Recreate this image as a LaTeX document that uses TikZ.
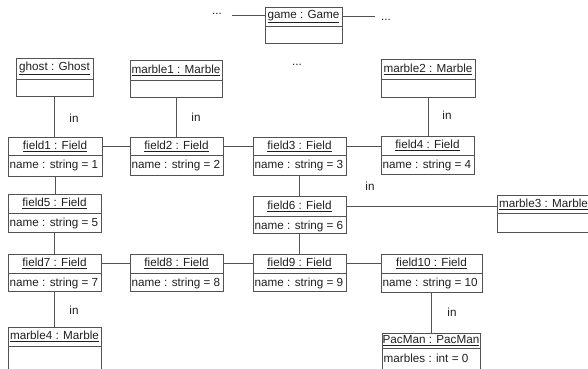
\documentclass[tikz,border=0pt]{standalone}
\usepackage{fontspec}
\setmainfont{Liberation Sans}
\begin{document}
\begin{tikzpicture}[x=1pt,y=-1pt,
  objbox/.style={draw=black!68, line width=0.9pt, inner sep=0pt, outer sep=0pt},
  boxline/.style={draw=black!68, line width=0.9pt},
  conn/.style={draw=black!68, line width=0.9pt},
  lbl/.style={inner sep=0pt, text=black!88, font=\fontsize{11.7}{14}\selectfont}]
\useasboundingbox (0,0) rectangle (588,368);
\clip (0,0) rectangle (588,368);
\newcommand\umlobj[8]{%
  \node[objbox, anchor=north west, minimum width={(#4-#2)*1pt}, minimum height={(#5-#3)*1pt}] (#1) at (#2,#3) {};
  \draw[boxline] (#2,#6) -- (#4,#6);
  \node[lbl] (#1t) at ({(#2+#4)/2},{(#3+#6)/2}) {\underline{#7}};
  \if\relax\detokenize{#8}\relax\else
  \node[lbl, anchor=west] (#1a) at ({#2+1.5},{#6+10}) {#8};
  \fi}
\umlobj{game}{265}{7}{342}{43}{26}{game : Game}{}
\umlobj{ghost}{16}{58}{93}{96}{79}{ghost : Ghost}{}
\umlobj{mA}{130}{60}{222}{97}{80}{marble1 : Marble}{}
\umlobj{mB}{381}{59}{475}{97}{79}{marble2 : Marble}{}
\umlobj{fA}{8}{137}{102}{176}{155}{field1 : Field}{name : string = 1}
\umlobj{fB}{130}{137}{223}{175}{155}{field2 : Field}{name : string = 2}
\umlobj{fC}{253}{137}{346}{175}{155}{field3 : Field}{name : string = 3}
\umlobj{fD}{381}{136}{474}{174}{155}{field4 : Field}{name : string = 4}
\umlobj{fE}{8}{194}{101}{232}{213}{field5 : Field}{name : string = 5}
\umlobj{fF}{253}{196}{346}{233}{216}{field6 : Field}{name : string = 6}
\umlobj{mC}{497}{195}{590}{232}{213}{marble3 : Marble}{}
\umlobj{fG}{8}{254}{101}{291}{273}{field7 : Field}{name : string = 7}
\umlobj{fH}{130}{254}{223}{291}{273}{field8 : Field}{name : string = 8}
\umlobj{fI}{253}{254}{346}{291}{273}{field9 : Field}{name : string = 9}
\umlobj{fJ}{381}{254}{482}{292}{273}{field10 : Field}{name : string = 10}
\umlobj{mD}{8}{327}{101}{375}{346}{marble4 : Marble}{}
\umlobj{pac}{382}{333}{480}{375}{348}{PacMan : PacMan}{marbles : int = 0}
% dots
\node[lbl] (d1) at (217,14) {...};
\node[lbl] (d2) at (386,20) {...};
\node[lbl] (d3) at (297,65) {...};
\coordinate (gl) at (232,15);
\coordinate (gr) at (375,16);
\draw[conn] (gl) -- (gl -| game.west);
\draw[conn] (gr -| game.east) -- (gr);
% vertical connectors
\draw[conn] (ghost.south) -- (ghost.south |- fA.north);
\draw[conn] (mA.south) -- (mA.south |- fB.north);
\draw[conn] (mB.south) -- (mB.south |- fD.north);
\draw[conn] (fA.south) -- (fA.south |- fE.north);
\draw[conn] (fE.south) -- (fE.south |- fG.north);
\draw[conn] (fG.south) -- (fG.south |- mD.north);
\draw[conn] (fC.south) -- (fC.south |- fF.north);
\draw[conn] (fF.south) -- (fF.south |- fI.north);
\draw[conn] (fJ.south) -- (fJ.south |- pac.north);
% horizontal connectors
\draw[conn] (fAt -| fA.east) -- (fAt -| fB.west);
\draw[conn] (fBt -| fB.east) -- (fBt -| fC.west);
\draw[conn] (fCt -| fC.east) -- (fCt -| fD.west);
\draw[conn] (fFt -| fF.east) -- (fFt -| mC.west);
\draw[conn] (fGt -| fG.east) -- (fGt -| fH.west);
\draw[conn] (fHt -| fH.east) -- (fHt -| fI.west);
\draw[conn] (fIt -| fI.east) -- (fIt -| fJ.west);
% in labels
\node[lbl] (i1) at (74,118) {in};
\node[lbl] (i2) at (196,117) {in};
\node[lbl] (i3) at (447,115) {in};
\node[lbl] (i4) at (370,186) {in};
\node[lbl] (i5) at (74,310) {in};
\node[lbl] (i6) at (452,312) {in};
\end{tikzpicture}
\end{document}
